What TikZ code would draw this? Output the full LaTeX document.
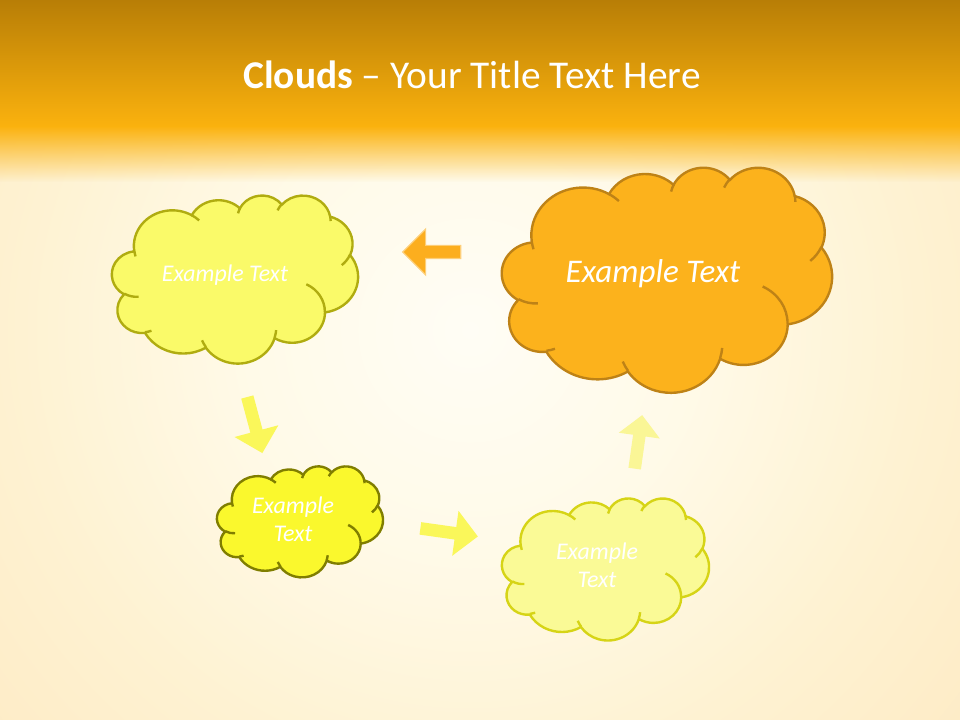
\documentclass[tikz,border=0pt]{standalone}
\usepackage{fontspec}
\setmainfont{Carlito}
\usetikzlibrary{shapes.arrows,fadings,positioning}

\definecolor{bandtop}{RGB}{184,126,6}
\definecolor{bandbot}{RGB}{251,178,14}
\definecolor{glowA}{RGB}{255,253,245}
\definecolor{glowB}{RGB}{255,250,232}
\definecolor{glowC}{RGB}{254,242,210}
\definecolor{glowD}{RGB}{253,231,190}
\definecolor{glowE}{RGB}{251,221,180}
\definecolor{glowF}{RGB}{250,213,176}
\definecolor{fillA}{RGB}{250,250,105}
\definecolor{lineA}{RGB}{176,172,16}
\definecolor{fillB}{RGB}{252,178,28}
\definecolor{lineB}{RGB}{190,130,22}
\definecolor{fillC}{RGB}{250,248,45}
\definecolor{lineC}{RGB}{128,126,0}
\definecolor{fillD}{RGB}{250,250,150}
\definecolor{lineD}{RGB}{214,212,22}
\definecolor{arrowB}{RGB}{252,174,30}
\definecolor{arrowY}{RGB}{250,247,90}
\definecolor{arrowP}{RGB}{250,246,150}

\pgfdeclareradialshading{sunglow}{\pgfpointorigin}{color(0bp)=(glowA); color(7bp)=(glowB); color(14bp)=(glowC); color(24bp)=(glowD); color(34bp)=(glowE); color(44bp)=(glowF); color(50bp)=(glowF)}
\tikzfading[name=bandfade, top color=transparent!0, bottom color=transparent!100]

% one arc of the cloud outline, angles as seen on the ellipse
\newcommand\cldarc[4]{%
  \pgfextra{%
    \pgfmathparse{atan2(#1*sin(#3),#2*cos(#3))}\xdef\cldta{\pgfmathresult}%
    \pgfmathparse{atan2(#1*sin(#3+#4),#2*cos(#3+#4))}\xdef\cldtb{\pgfmathresult}%
    \pgfmathparse{#4+mod(\cldtb-\cldta-(#4)+900,360)-180}\xdef\cldtd{\pgfmathresult}%
  }
  arc[start angle=\cldta, delta angle=\cldtd, x radius=#1, y radius=#2]}

\tikzset{
  puffcloud/.pic={
    \path[pic actions] (9.028,33.264)
      \cldarc{15.632}{21.273}{-190.487}{123.781}
      \cldarc{12.345}{16.822}{-144.102}{89.945}
      \cldarc{10.104}{13.762}{-145.808}{99.723}
      \cldarc{11.243}{15.266}{-130.986}{117.242}
      \cldarc{12.345}{16.836}{-78.709}{109.027}
      \cldarc{15.683}{21.343}{-46.267}{130.269}
      \cldarc{13.391}{18.211}{0.625}{114.033}
      \cldarc{15.630}{21.331}{22.452}{115.173}
      \cldarc{17.870}{24.405}{66.243}{75.711}
      \cldarc{10.093}{13.699}{-274.942}{146.736}
      \cldarc{10.058}{13.762}{-246.829}{152.519}
      -- cycle;
    \path[pic actions, fill=none]
      (10.863,60.595) \cldarc{10.058}{13.762}{86.742}{26.430}
      (16.037,80.785) \cldarc{10.093}{13.699}{73.610}{11.447}
      (38.144,90.486) \cldarc{15.630}{21.331}{137.624}{14.081}
      (66.729,80.442) \cldarc{15.630}{21.331}{6.453}{15.998}
      (79.002,53.134) \cldarc{13.391}{18.211}{-70.292}{70.917}
      (96.755,35.542) \cldarc{12.345}{16.836}{30.318}{27.752}
      (88.713,12.560) \cldarc{11.243}{15.266}{-13.744}{14.859}
      (67.310,9.148) \cldarc{11.243}{15.266}{-149.181}{18.195}
      (51.252,10.926) \cldarc{10.104}{13.762}{-163.494}{17.686}
      (32.407,12.019) \cldarc{15.632}{21.273}{-66.707}{12.319}
      (9.553,36.549) \cldarc{15.632}{21.273}{157.654}{11.858};
  }
}

\begin{document}
\begin{tikzpicture}[x=0.025cm, y=-0.025cm,
    cloudtext/.style={text=white, font=\itshape\fontsize{17}{20}\selectfont, align=center},
    bigtext/.style={text=white, font=\itshape\fontsize{23.5}{28}\selectfont},
    blockarrow/.style={single arrow, inner sep=0.15cm, single arrow head extend=0.41cm,
      minimum height=1.45cm}]
	\useasboundingbox (0,0) rectangle (960,720);
	% background
	\begin{scope}
		\clip (0,0) rectangle (960,720);
		\shade[shading=sunglow] (470,330) circle (800);
	\end{scope}
	\shade[top color=bandtop, bottom color=bandbot] (0,0) rectangle (960,127);
	\fill[bandbot, path fading=bandfade] (0,126) rectangle (960,182);
	\node[text=white, font=\fontsize{28}{32}\selectfont] (title) at (472,75) {\textbf{Clouds} – Your Title Text Here};

	% clouds
	\pic[fill=fillA, draw=lineA, line width=1.7pt, xscale=2.46, yscale=1.68] at (112,195) {puffcloud};
	\pic[fill=fillB, draw=lineB, line width=1.7pt, xscale=3.30, yscale=2.25] at (502,167) {puffcloud};
	\pic[fill=fillC, draw=lineC, line width=1.7pt, xscale=1.66, yscale=1.11] at (217,466) {puffcloud};
	\pic[fill=fillD, draw=lineD, line width=1.7pt, xscale=2.07, yscale=1.42] at (502,498) {puffcloud};

	\node[cloudtext] (cloud1) at (225,275) {Example Text};
	\node[bigtext] (cloud2) at (653,274) {Example Text};
	\node[cloudtext] (cloud3) at (293,519) {Example\\Text};
	\node[cloudtext] (cloud4) at (597,565) {Example\\Text};

	% arrows
	\node[blockarrow, fill=arrowB, draw=arrowB!60!white, line width=0.8pt, rotate=180] (arrow1) at (435,252) {};
	\node[blockarrow, fill=arrowY, rotate=-75] (arrow2) at (254,422) {};
	\node[blockarrow, fill=arrowY, rotate=-8] (arrow3) at (446,532) {};
	\node[blockarrow, fill=arrowP, minimum height=1.35cm, single arrow head extend=0.36cm, rotate=82] (arrow4) at (638,445) {};
\end{tikzpicture}
\end{document}
